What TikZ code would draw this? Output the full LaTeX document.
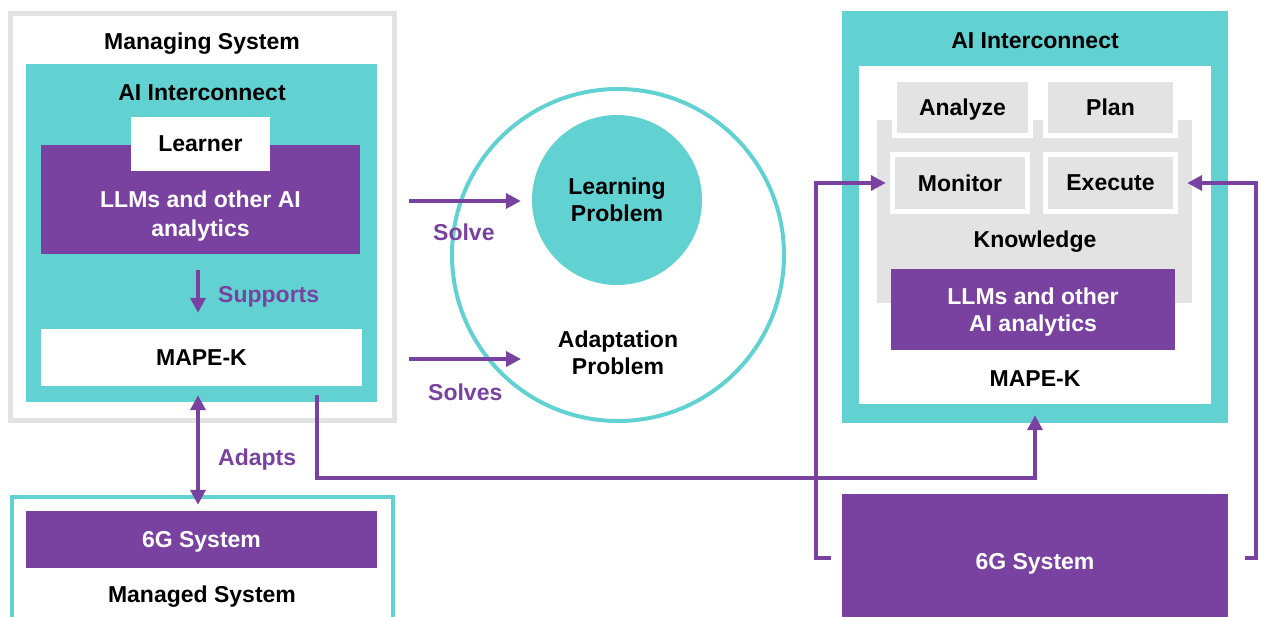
\documentclass[tikz,border=0pt]{standalone}
\usepackage{fontspec}
\setmainfont{Liberation Sans}
\usetikzlibrary{arrows.meta,calc}
\definecolor{aiteal}{HTML}{62D1D2}
\definecolor{aipurple}{HTML}{7A42A0}
\definecolor{aigray}{HTML}{E3E3E3}
\tikzset{
  txt/.style={font=\bfseries\fontsize{23}{27}\selectfont, inner sep=0pt, align=center},
  blk/.style={rectangle, inner sep=0pt, draw=none, txt, text depth=0pt},
  tealblk/.style={blk, fill=aiteal},
  purpblk/.style={blk, fill=aipurple, text=white},
  whiteblk/.style={blk, fill=white},
  grayblk/.style={blk, fill=aigray},
  plbl/.style={txt, text=aipurple},
  arr/.style={draw=aipurple, line width=4pt, -{Triangle[length=15pt,width=15pt]}},
  darr/.style={draw=aipurple, line width=4pt, {Triangle[length=15pt,width=15pt]}-{Triangle[length=15pt,width=15pt]}},
}
\begin{document}
\begin{tikzpicture}[x=1pt,y=-1pt]
\useasboundingbox (0,0) rectangle (1261,616);

% ---------- left: managing system ----------
\node[rectangle, draw=aigray, line width=5pt, minimum width=384pt, minimum height=407pt, inner sep=0pt] (managing) at (202.5,217) {};
\node[txt, anchor=base] (managingt) at (202,49) {Managing System};
\node[tealblk, minimum width=351pt, minimum height=338pt] (aiL) at (201.5,233) {};
\node[txt, anchor=base] (aiLt) at (202,100) {AI Interconnect};
\node[purpblk, minimum width=319pt, minimum height=109pt] (llmL) at (200.5,199.5) {};
\node[whiteblk, minimum width=139pt, minimum height=54pt] (learner) at (200.5,144) {Learner};
\node[txt, text=white, font=\bfseries\fontsize{23}{29}\selectfont] (llmLt) at (200.5,216.5) {LLMs and other AI\\analytics};
\node[whiteblk, minimum width=321pt, minimum height=57pt] (mapekL) at (201.5,357.5) {MAPE-K};
\node[plbl, anchor=base west] (supports) at (218,302) {Supports};

% ---------- left: managed system ----------
\node[rectangle, draw=aiteal, line width=4pt, minimum width=381pt, minimum height=143pt, inner sep=0pt] (managed) at (202.5,568.5) {};
\node[purpblk, minimum width=351pt, minimum height=57pt] (g6L) at (201.5,539.5) {6G System};
\node[txt, anchor=base] (managedt) at (202,602) {Managed System};
\node[plbl, anchor=base west] (adapts) at (218,465) {Adapts};

% ---------- middle: problems ----------
\node[circle, draw=aiteal, line width=4pt, minimum size=332pt, inner sep=0pt] (adapt) at (618,255) {};
\node[circle, fill=aiteal, minimum size=170pt, inner sep=0pt, txt] (lp) at (617,200) {Learning\\Problem};
\node[txt] (adaptt) at (618,353) {Adaptation\\Problem};
\node[plbl, anchor=base west] (solve) at (433,240) {Solve};
\node[plbl, anchor=base west] (solves) at (428,400) {Solves};

% ---------- right: AI interconnect ----------
\node[tealblk, minimum width=386pt, minimum height=412pt] (aiR) at (1035,217) {};
\node[txt, anchor=base] (aiRt) at (1035,48) {AI Interconnect};
\node[whiteblk, minimum width=352pt, minimum height=338pt] (innerR) at (1035,235) {};
\node[grayblk, minimum width=315pt, minimum height=183pt] (know) at (1034.5,211.5) {};
\fill[white] (892,82) rectangle (1033,138);
\fill[white] (1043,82) rectangle (1178,138);
\fill[white] (890,152) rectangle (1030,214);
\fill[white] (1043,152) rectangle (1178,214);
\node[grayblk, minimum width=131pt, minimum height=51pt] (analyze) at (962.5,107.5) {Analyze};
\node[grayblk, minimum width=125pt, minimum height=51pt] (plan) at (1110.5,107.5) {Plan};
\node[grayblk, minimum width=130pt, minimum height=52pt] (monitor) at (960,183) {Monitor};
\node[grayblk, minimum width=125pt, minimum height=52pt] (execute) at (1110.5,183) {Execute};
\node[txt, anchor=base] (knowt) at (1035,247) {Knowledge};
\node[purpblk, minimum width=284pt, minimum height=81pt] (llmR) at (1033,309.5) {LLMs and other\\AI analytics};
\node[txt, anchor=base] (mapekR) at (1035,386) {MAPE-K};

% ---------- right: 6G system ----------
\node[purpblk, minimum width=386pt, minimum height=134pt] (g6R) at (1035,561) {6G System};

% ---------- connectors ----------
\draw[arr, shorten <=16pt, shorten >=16pt] ([xshift=-2.5pt]llmL.south) -- ([xshift=-3.5pt]mapekL.north);
\draw[darr, shorten <=9pt, shorten >=6pt] ([xshift=-3.5pt]mapekL.south) -- ([xshift=-3.5pt]g6L.north);

\coordinate (sv) at (409,201);
\draw[arr, shorten >=11pt] (sv) -- (sv -| lp.west);
\coordinate (svs) at (409,359);
\coordinate (svsend) at (521,359);
\draw[arr] (svs) -- (svsend);

\coordinate (elbow) at (317,478);
\draw[arr, shorten <=9pt, shorten >=-8pt] (elbow |- mapekL.south) -- (elbow) -| (aiR.south);

\coordinate (lx) at (816,558);
\draw[arr, shorten <=11pt, shorten >=9pt] (g6R.west |- lx) -- (lx) |- (monitor.west);
\coordinate (rx) at (1256,558);
\draw[arr, shorten <=17pt, shorten >=14pt] (g6R.east |- rx) -- (rx) |- (execute.east);
\end{tikzpicture}
\end{document}
